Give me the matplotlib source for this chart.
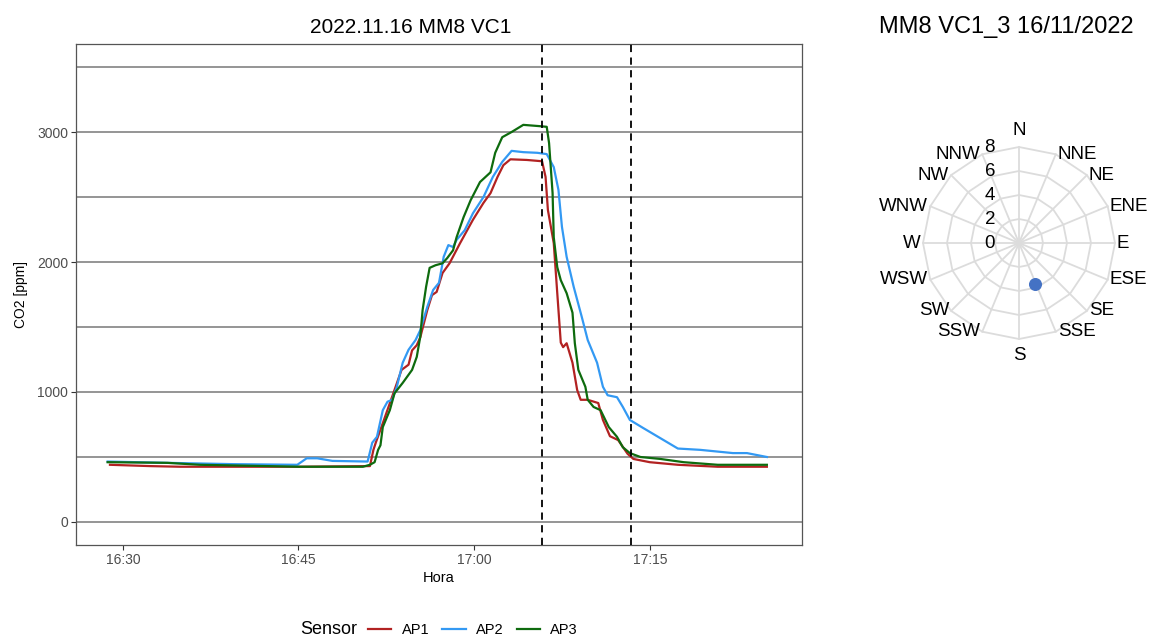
import numpy as np
import pandas as pd
import matplotlib
matplotlib.use("Agg")
from matplotlib import pyplot as plt
import matplotlib.dates as mdates
import matplotlib.transforms as mtransforms

plt.rcParams['font.family'] = ['Liberation Sans', 'DejaVu Sans']

base = pd.Timestamp('2022-11-16 16:00')

# minutes after 16:00 and CO2 [ppm]
ap1_min = [28.9, 32.3, 34.9, 45.1, 51.1, 51.4, 51.6, 52.2, 53.1, 53.8, 54.4, 54.7, 55.1, 55.4, 56.0,
           56.4, 56.8, 57.3, 57.9, 58.8, 59.9, 60.8, 61.4, 62.0, 62.5, 63.1, 64.5, 65.8, 66.1, 66.3,
           66.8, 67.1, 67.4, 67.6, 67.9, 68.4, 68.8, 69.1, 69.7, 70.6, 71.0, 71.6, 72.3, 73.1, 73.6,
           75.0, 77.4, 80.8, 85.0]
ap1_ppm = [440, 430, 425, 425, 430, 555, 610, 760, 990, 1170, 1210, 1320, 1360, 1420, 1630,
           1745, 1770, 1915, 1990, 2145, 2325, 2455, 2530, 2655, 2745, 2790, 2785, 2775, 2655, 2400,
           2145, 1760, 1380, 1345, 1375, 1225, 1015, 940, 940, 915, 785, 660, 630, 525, 485,
           460, 440, 425, 425]

ap2_min = [28.7, 33.8, 39.4, 44.9, 45.7, 46.6, 47.9, 50.9, 51.0, 51.3, 51.7, 52.2, 52.6, 53.0, 53.4,
           53.9, 54.4, 55.0, 55.4, 56.0, 56.5, 57.0, 57.4, 57.8, 58.2, 58.5, 59.2, 59.9, 60.8, 61.6,
           62.4, 63.2, 64.2, 65.4, 66.2, 66.8, 67.2, 67.5, 67.9, 68.5, 69.2, 69.7, 70.5, 71.0, 71.4,
           72.2, 72.7, 73.3, 74.4, 75.9, 77.4, 79.3, 82.1, 83.3, 85.0]
ap2_ppm = [465, 455, 445, 440, 490, 490, 470, 465, 500, 610, 655, 860, 925, 940, 1040,
           1225, 1325, 1400, 1475, 1655, 1785, 1840, 2040, 2130, 2115, 2170, 2245, 2375, 2500, 2655,
           2770, 2855, 2845, 2840, 2830, 2730, 2555, 2270, 2040, 1810, 1575, 1400, 1225, 1040, 975,
           960, 885, 785, 725, 645, 565, 555, 530, 530, 500]

ap3_min = [28.7, 33.8, 36.6, 42.3, 45.1, 50.5, 51.1, 51.5, 51.8, 52.0, 52.2, 52.8, 53.2, 53.9, 54.7,
           55.1, 55.4, 55.6, 55.9, 56.2, 56.7, 57.3, 57.7, 58.2, 58.5, 59.1, 59.7, 60.5, 61.4, 61.8,
           62.4, 63.2, 64.2, 65.6, 66.2, 66.4, 66.7, 66.8, 67.1, 67.4, 67.9, 68.4, 68.6, 68.9, 69.5,
           69.7, 70.2, 70.8, 71.5, 72.2, 72.7, 73.3, 74.2, 75.9, 77.9, 80.8, 85.0]
ap3_ppm = [460, 455, 440, 430, 425, 425, 440, 460, 555, 590, 730, 860, 990, 1070, 1170,
           1270, 1425, 1630, 1810, 1955, 1975, 1990, 2030, 2090, 2190, 2345, 2475, 2615, 2690, 2840,
           2960, 3000, 3055, 3045, 3040, 2915, 2530, 2190, 1960, 1860, 1760, 1610, 1375, 1170, 1040,
           940, 885, 860, 730, 655, 575, 530, 500, 485, 460, 440, 440]

event_min = [65.8, 73.4]
hline_ppm = [0, 500, 1000, 1500, 2000, 2500, 3000, 3500]
ytick_ppm = [0, 1000, 2000, 3000]
xtick_labels = ['16:30', '16:45', '17:00', '17:15']

sensors = ['AP1', 'AP2', 'AP3']
sensor_colors = ['#B22222', '#3399F3', '#0E6B0E']

# wind rose
compass = ['N', 'NNE', 'NE', 'ENE', 'E', 'ESE', 'SE', 'SSE',
           'S', 'SSW', 'SW', 'WSW', 'W', 'WNW', 'NW', 'NNW']
rings = [2, 4, 6, 8]
wind_dir_deg = [159]
wind_speed = [3.7]


def to_time(minutes):
    return base + pd.to_timedelta(minutes, unit='min')


fig = plt.figure(figsize=(11.53, 6.38), dpi=100)
ax = fig.add_axes([76 / 1153, 93 / 638, 726 / 1153, 501 / 638])

for y in hline_ppm:
    ax.axhline(y, color='#8c8c8c', lw=1.3, zorder=1)
for t in event_min:
    ax.axvline(to_time(t), color='black', lw=1.3, ls=(0, (4, 3)), zorder=3)

series = [(ap1_min, ap1_ppm), (ap2_min, ap2_ppm), (ap3_min, ap3_ppm)]
handles = []
for (mins, ppm), name, col in zip(series, sensors, sensor_colors):
    ln, = ax.plot(to_time(mins), ppm, color=col, lw=1.6, label=name, zorder=2)
    handles.append(ln)

ax.set_xlim(to_time(26.0), to_time(88.0))
ax.set_ylim(-177, 3677)
ax.set_yticks(ytick_ppm)
ax.set_xticks(pd.to_datetime(['2022-11-16 ' + s for s in xtick_labels]))
ax.xaxis.set_major_formatter(mdates.DateFormatter('%H:%M'))
ax.tick_params(labelsize=10, labelcolor='#4d4d4d', color='#333333', length=3.5, width=0.8, pad=2)
for sp in ax.spines.values():
    sp.set_color('#555555')
    sp.set_linewidth(0.9)

ax.set_ylabel('CO2 [ppm]', fontsize=10)
ax.yaxis.set_label_coords(-0.066, 0.5)
ax.set_xlabel('Hora', fontsize=10.5)
ax.xaxis.set_label_coords(0.5, -0.052)

fig.text(411 / 1153, 1 - 33 / 638, '2022.11.16 MM8 VC1', ha='center', va='baseline', fontsize=15)

fig.text(300 / 1153, 1 - 630 / 638, 'Sensor', ha='left', va='center', fontsize=13)
fig.legend(handles=handles, labels=sensors, loc='center', bbox_to_anchor=(473 / 1153, 1 - 630 / 638),
           ncol=3, frameon=False, fontsize=10.5, handlelength=1.6, handletextpad=0.7,
           columnspacing=0.9, borderpad=0)

# wind rose panel
fig.text(1006 / 1153, 1 - 33 / 638, 'MM8 VC1_3 16/11/2022', ha='center', va='baseline', fontsize=17)

pax = fig.add_axes([923 / 1153, 299 / 638, 192 / 1153, 192 / 638], projection='polar')
pax.set_theta_zero_location('N')
pax.set_theta_direction(-1)
theta = np.deg2rad(np.arange(len(compass)) * 22.5)
closed = np.append(theta, theta[0])
for r in rings:
    pax.plot(closed, [r] * len(closed), color='#dcdcdc', lw=1.3, zorder=1, clip_on=False)
for th in theta:
    pax.plot([th, th], [0, rings[-1]], color='#dcdcdc', lw=1.3, zorder=1, clip_on=False)
pax.set_ylim(0, rings[-1])
pax.grid(False)
pax.spines['polar'].set_visible(False)
pax.set_xticks([])
pax.set_yticks([])

# direction labels just outside the outer ring
for th, lbl in zip(theta, compass):
    s, c = np.sin(th), np.cos(th)
    if s > 0.1:
        ha, dx = 'left', 2
    elif s < -0.1:
        ha, dx = 'right', -2
    else:
        ha, dx = 'center', 0
    if abs(s) <= 0.1:
        va, dy = ('bottom', 8) if c > 0 else ('top', -8)
    else:
        va, dy = 'center', 0
    pax.annotate(lbl, xy=(th, rings[-1]), xytext=(dx, dy), textcoords='offset pixels',
                 ha=ha, va=va, fontsize=13.5, annotation_clip=False)

lab_tr = mtransforms.offset_copy(pax.transData, fig=fig, x=-24, y=0, units='dots')
for r in [0] + rings:
    pax.text(0, r, str(r), transform=lab_tr, ha='right', va='center', fontsize=13.5)
pax.scatter(np.deg2rad(wind_dir_deg), wind_speed, s=70, color='#4472C4', zorder=4, clip_on=False)

fig.savefig('out.png', dpi=100, facecolor='white')
